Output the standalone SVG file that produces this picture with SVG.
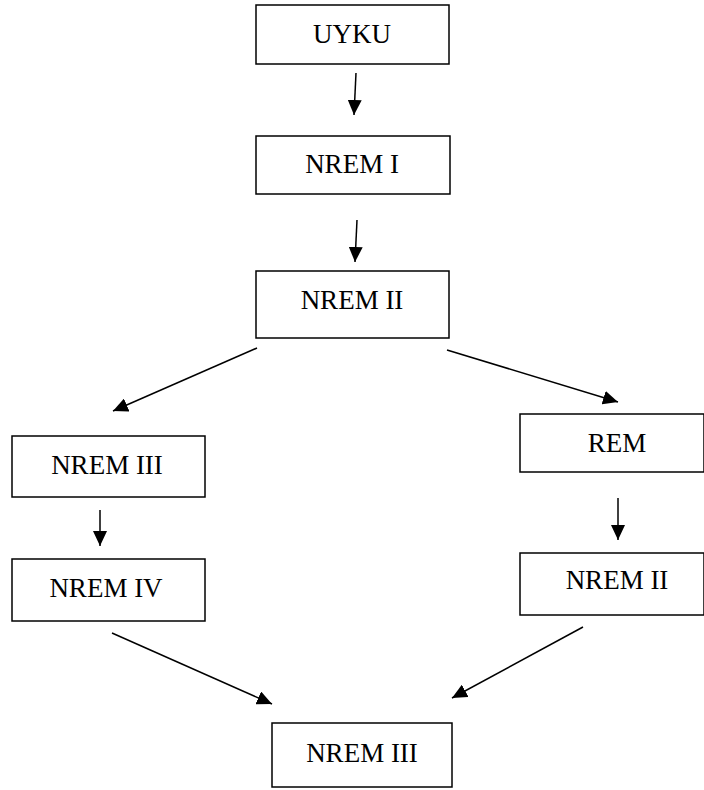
<svg xmlns="http://www.w3.org/2000/svg" width="704" height="790" viewBox="0 0 704 790">
<style>
.box{fill:#fff;stroke:#000;stroke-width:1.5}
.lbl{font-family:"Liberation Serif","Times New Roman",serif;font-size:27px;fill:#000;text-anchor:middle}
.edge{stroke:#000;stroke-width:1.5;fill:none;marker-end:url(#ah)}
</style>
<defs>
<marker id="ah" markerUnits="userSpaceOnUse" markerWidth="16" markerHeight="14" viewBox="0 0 16 14" refX="15" refY="7" orient="auto">
<path d="M0,0 L15,7 L0,14 Z" fill="#000"/>
</marker>
</defs>
<rect width="704" height="790" fill="#fff"/>
<g id="n-uyku"><rect class="box" x="256" y="5" width="193" height="59"/><text class="lbl" x="352" y="43">UYKU</text></g>
<g id="n-nrem1"><rect class="box" x="256" y="136" width="194" height="58"/><text class="lbl" x="352" y="173">NREM I</text></g>
<g id="n-nrem2"><rect class="box" x="256" y="271" width="193" height="67"/><text class="lbl" x="352" y="309">NREM II</text></g>
<g id="n-nrem3-left"><rect class="box" x="12" y="436" width="193" height="61"/><text class="lbl" x="107" y="474">NREM III</text></g>
<g id="n-nrem4"><rect class="box" x="12" y="559" width="193" height="62"/><text class="lbl" x="106" y="597">NREM IV</text></g>
<g id="n-rem"><rect class="box" x="520" y="414" width="184" height="58"/><text class="lbl" x="617" y="452">REM</text></g>
<g id="n-nrem2-right"><rect class="box" x="520" y="553" width="184" height="62"/><text class="lbl" x="617" y="589">NREM II</text></g>
<g id="n-nrem3-bottom"><rect class="box" x="272" y="723" width="180" height="64"/><text class="lbl" x="362" y="762">NREM III</text></g>
<g id="connectors">
<line class="edge" x1="356" y1="73" x2="354" y2="115"/>
<line class="edge" x1="357" y1="220" x2="355" y2="262"/>
<line class="edge" x1="257" y1="348" x2="113" y2="411"/>
<line class="edge" x1="447" y1="350" x2="618" y2="402"/>
<line class="edge" x1="100" y1="510" x2="100" y2="546"/>
<line class="edge" x1="618" y1="498" x2="618" y2="540"/>
<line class="edge" x1="112" y1="633" x2="272" y2="704"/>
<line class="edge" x1="583" y1="627" x2="452" y2="698"/>
</g>
</svg>
